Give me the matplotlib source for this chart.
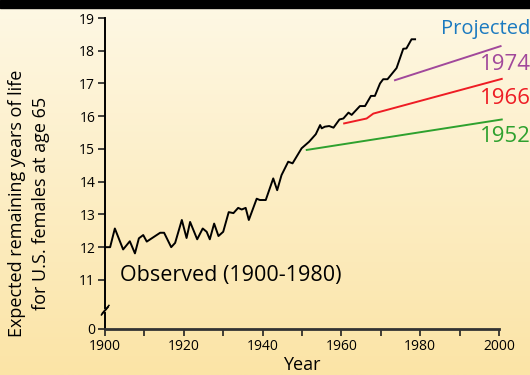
import matplotlib
matplotlib.use("Agg")
import matplotlib.pyplot as plt
import numpy as np

plt.rcParams['font.family'] = ['Open Sans', 'DejaVu Sans']

# observed curve (year, years of life left at 65)
obs_year = [1900.0, 1901.3, 1902.5, 1904.6, 1906.3, 1907.6, 1908.6, 1909.7, 1910.6,
            1914.0, 1915.0, 1916.8, 1917.8, 1919.5, 1920.7, 1921.6, 1923.4, 1924.8,
            1925.8, 1926.6, 1927.7, 1928.8, 1930.0, 1931.4, 1932.6, 1933.8, 1934.7,
            1935.7, 1936.5, 1938.5, 1939.3, 1940.8, 1942.7, 1943.7, 1944.8, 1946.5,
            1947.6, 1949.9, 1951.8, 1953.5, 1954.6, 1955.0, 1955.8, 1956.9, 1958.0,
            1959.5, 1960.5, 1961.8, 1962.6, 1964.7, 1966.0, 1967.5, 1968.5, 1969.8,
            1970.6, 1971.7, 1974.0, 1975.7, 1976.5, 1977.8, 1978.7]
obs_val = [12.0, 12.0, 12.57, 11.93, 12.18, 11.81, 12.27, 12.37, 12.17,
           12.44, 12.44, 12.0, 12.13, 12.83, 12.28, 12.77, 12.24, 12.57,
           12.47, 12.24, 12.72, 12.34, 12.47, 13.07, 13.04, 13.2, 13.15,
           13.2, 12.83, 13.48, 13.44, 13.44, 14.1, 13.74, 14.2, 14.61,
           14.56, 15.02, 15.22, 15.45, 15.73, 15.63, 15.68, 15.70, 15.65,
           15.9, 15.93, 16.11, 16.04, 16.31, 16.31, 16.62, 16.62, 17.0,
           17.13, 17.13, 17.47, 18.06, 18.07, 18.35, 18.35]

# projections made in 1952, 1966, 1974
p1952_year = [1951.2, 2000.7]
p1952_val = [14.97, 15.90]
p1966_year = [1960.7, 1966.4, 1968.1, 2000.7]
p1966_val = [15.78, 15.93, 16.08, 17.14]
p1974_year = [1973.6, 2000.4]
p1974_val = [17.10, 18.14]

ytick_pos = [9.5, 11, 12, 13, 14, 15, 16, 17, 18, 19]
ytick_lab = ['0', '11', '12', '13', '14', '15', '16', '17', '18', '19']
xtick_lab = [1900, 1920, 1940, 1960, 1980, 2000]

c1952 = '#2ea12e'
c1966 = '#ee1c24'
c1974 = '#a1489b'
cproj = '#1b7ac0'


def main():
    fig = plt.figure(figsize=(5.3, 3.75), dpi=100)

    # cream gradient background
    bg = fig.add_axes([0, 0, 1, 1], zorder=-10)
    grad = np.linspace(0, 1, 256).reshape(-1, 1)
    cmap = matplotlib.colors.LinearSegmentedColormap.from_list(
        'bg', ['#fef8e5', '#fbe4a6'])
    bg.imshow(grad, aspect='auto', cmap=cmap, extent=[0, 1, 0, 1])
    bg.add_patch(plt.Rectangle((0, 1 - 8 / 375), 1, 8 / 375, color='black'))
    bg.set_xlim(0, 1)
    bg.set_ylim(0, 1)
    bg.axis('off')

    ax = fig.add_axes([105 / 530, 46 / 375, 394 / 530, 311 / 375])
    ax.patch.set_alpha(0)
    ax.plot(obs_year, obs_val, color='black', lw=1.4, clip_on=False)
    ax.plot(p1952_year, p1952_val, color=c1952, lw=1.4, clip_on=False)
    ax.plot(p1966_year, p1966_val, color=c1966, lw=1.4, clip_on=False)
    ax.plot(p1974_year, p1974_val, color=c1974, lw=1.4, clip_on=False)

    ax.set_xlim(1900, 2000)
    ax.set_ylim(9.5, 19)
    ax.set_xticks(xtick_lab)
    ax.set_xticklabels([str(x) for x in xtick_lab])
    ax.set_xticks(range(1910, 2000, 20), minor=True)
    ax.set_yticks(ytick_pos)
    ax.set_yticklabels(ytick_lab)
    ax.tick_params(axis='both', which='both', length=5, width=1.2,
                   labelsize=10, pad=2, color='#222222')

    for s in ['top', 'right', 'left']:
        ax.spines[s].set_visible(False)
    ax.spines['bottom'].set_color('#333333')
    ax.spines['bottom'].set_linewidth(2)

    # broken y axis
    ax.plot([1900, 1900], [9.5, 9.98], color='black', lw=1.4, clip_on=False)
    ax.plot([1900, 1900], [10.15, 19], color='black', lw=1.4, clip_on=False)
    ax.plot([1899.1, 1900.8], [9.93, 10.17], color='black', lw=1.1, clip_on=False)
    ax.plot([1899.3, 1901.0], [9.98, 10.22], color='black', lw=1.1, clip_on=False)

    ax.text(1903.8, 11.12, 'Observed (1900-1980)', fontsize=15.5,
            ha='left', va='center')

    fig.text(530 / 530, 1 - 29 / 375, 'Projected', color=cproj, fontsize=14.5,
             ha='right', va='center')
    fig.text(531 / 530, 1 - 65 / 375, '1974', color=c1974, fontsize=16,
             ha='right', va='center')
    fig.text(531 / 530, 1 - 99 / 375, '1966', color=c1966, fontsize=16,
             ha='right', va='center')
    fig.text(531 / 530, 1 - 137 / 375, '1952', color=c1952, fontsize=16,
             ha='right', va='center')

    fig.text(17 / 530, 1 - 203 / 375, 'Expected remaining years of life',
             rotation=90, fontsize=13, ha='center', va='center')
    fig.text(41 / 530, 1 - 203 / 375, 'for U.S. females at age 65',
             rotation=90, fontsize=13, ha='center', va='center')
    fig.text(302 / 530, 1 - 365 / 375, 'Year', fontsize=13,
             ha='center', va='center')

    fig.savefig('out.png', dpi=100)


if __name__ == "__main__":
    main()
